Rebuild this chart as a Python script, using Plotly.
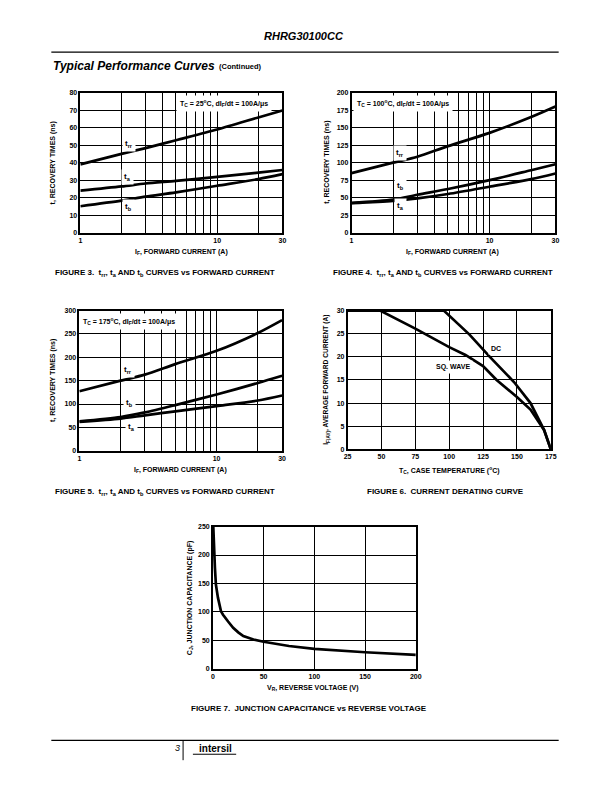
import numpy as np
import plotly.graph_objects as go

# page is 612x792; the browser body adds an 8px margin, so the figure
# itself is drawn 8px in from the top-left corner
OFF = 8
W, H = 612 - 2 * OFF, 792 - 2 * OFF
def X(px): return (px - OFF) / W
def Y(py): return 1 - (py - OFF) / H

FONT = "Liberation Sans, Arial, sans-serif"

# ---------------- data ----------------
IF = [1, 2, 3, 5, 10, 20, 30]
f3_trr = [39.0, 45.0, 48.3, 52.8, 58.9, 65.8, 69.8]
f3_ta = [24.0, 26.4, 28.1, 29.6, 31.9, 34.3, 35.8]
f3_tb = [15.1, 18.3, 20.6, 23.0, 26.8, 30.6, 33.4]

f4_trr = [85.0, 100.0, 108.5, 123.6, 142.5, 165.0, 180.0]
f4_tb = [42.5, 47.2, 54.2, 62.3, 75.0, 89.2, 97.6]
f4_ta = [42.0, 45.3, 49.0, 55.2, 65.6, 76.4, 84.4]

f5_trr = [127.4, 150.0, 162.8, 185.4, 213.8, 252.0, 279.5]
f5_tb = [63.0, 72.2, 82.0, 97.7, 120.3, 145.0, 160.5]
f5_ta = [61.6, 68.6, 75.7, 84.2, 95.5, 107.5, 118.2]

dc_T = [25, 96, 115, 130, 148, 160, 170, 175]
dc_I = [30, 30, 24.8, 20.0, 14.5, 10.0, 4.2, 0]
sq_T = [25, 49, 75, 100, 112, 125, 135, 150, 160, 170, 175]
sq_I = [30, 30, 26.1, 22.1, 20.4, 18.0, 15.0, 11.3, 8.6, 4.2, 0]

VR = [0.3, 1, 2, 3, 5, 8, 10, 15, 20, 25, 30, 40, 50, 75, 100, 150, 200]
CJ = [255, 215, 178, 148, 125, 101, 95, 83, 72, 64, 57.5, 51.5, 47.5, 40, 34.8, 29, 24.5]

log_major = [1, 10, 30]
log_minor = [2, 3, 4, 5, 6, 7, 8, 9, 20]

# ---------------- layout geometry (px on the page) ----------------
panels = [
    dict(x=(77.5, 283.0), y=(89.3, 230.7)),   # fig 3
    dict(x=(353.3, 560.7), y=(89.3, 230.7)),  # fig 4
    dict(x=(76.5, 282.7), y=(309.3, 450.7)),  # fig 5
    dict(x=(349.3, 556.0), y=(309.3, 449.3)), # fig 6
    dict(x=(212.3, 418.7), y=(527.3, 670.7)), # fig 7
]

fig = go.Figure()
CURVE = dict(color="black", width=2.7)

def add(xs, ys, i, shape="spline"):
    ax = "" if i == 1 else str(i)
    line = dict(shape=shape, **CURVE)
    if shape == "spline":
        line["smoothing"] = 0.8
    fig.add_trace(go.Scatter(x=xs, y=ys, mode="lines", line=line,
                             xaxis="x" + ax, yaxis="y" + ax, showlegend=False, hoverinfo="skip"))

for ys in (f3_trr, f3_ta, f3_tb):
    add(IF, ys, 1)
for ys in (f4_trr, f4_tb, f4_ta):
    add(IF, ys, 2)
for ys in (f5_trr, f5_tb, f5_ta):
    add(IF, ys, 3)
add(dc_T, dc_I, 4, "linear")
add(sq_T, sq_I, 4, "linear")
add(VR, CJ, 5, "linear")

tickfont = dict(family=FONT, size=7, color="black", weight="bold")
base = dict(showline=True, mirror=True, linecolor="black", linewidth=1.5,
            showgrid=True, gridcolor="black", gridwidth=1.1, ticks="",
            zeroline=False, tickfont=tickfont, fixedrange=True)

logx = dict(type="log", range=[0, np.log10(30)], tickmode="array",
            tickvals=log_major, ticktext=[str(v) for v in log_major],
            minor=dict(tickmode="array", tickvals=log_minor, showgrid=True,
                       gridcolor="black", gridwidth=1.1, ticks=""))
xspecs = [
    logx, logx, logx,
    dict(range=[25, 175], tickmode="linear", tick0=25, dtick=25),
    dict(range=[0, 200], tickmode="linear", tick0=0, dtick=50),
]
yspecs = [
    dict(range=[0, 80], tickmode="linear", tick0=0, dtick=10),
    dict(range=[0, 200], tickmode="linear", tick0=0, dtick=25),
    dict(range=[0, 300], tickmode="linear", tick0=0, dtick=50),
    dict(range=[0, 30], tickmode="linear", tick0=0, dtick=5),
    dict(range=[0, 250], tickmode="linear", tick0=0, dtick=50),
]

lay = {}
for i, (p, xs, ys) in enumerate(zip(panels, xspecs, yspecs), start=1):
    ax = "" if i == 1 else str(i)
    lay["xaxis" + ax] = dict(base, domain=[X(p["x"][0]), X(p["x"][1])], anchor="y" + ax, **xs)
    lay["yaxis" + ax] = dict(base, domain=[Y(p["y"][1]), Y(p["y"][0])], anchor="x" + ax, **ys)

fig.update_layout(width=W, height=H, margin=dict(l=0, r=0, t=0, b=0),
                  paper_bgcolor="white", plot_bgcolor="white", showlegend=False, **lay)

ann = []
def text(px, py, s, size=7, xanchor="center", yanchor="middle", angle=0, bg=None,
         italic=False, bold=True, pad=1, family=FONT):
    d = dict(x=X(px), y=Y(py), xref="paper", yref="paper", text=s, showarrow=False,
             xanchor=xanchor, yanchor=yanchor, textangle=angle,
             font=dict(family=family, size=size, color="black", weight="bold" if bold else "normal",
                       style="italic" if italic else "normal"))
    if bg:
        d.update(bgcolor=bg, borderpad=pad)
    ann.append(d)

# header
text(305, 32, "RHRG30100CC", size=11, italic=True)
text(48, 62, "Typical Performance Curves", size=12, italic=True, xanchor="left")
text(216, 63.5, "(Continued)", size=7.5, xanchor="left")

# condition boxes
text(223.3, 100, "T<sub>C</sub> = 25<sup>o</sup>C, dI<sub>F</sub>/dt = 100A/\u03bcs", size=7, bg="white", pad=3)
text(405.5, 100.5, "T<sub>C</sub> = 100<sup>o</sup>C, dI<sub>F</sub>/dt = 100A/\u03bcs", size=7, bg="white", pad=3)
text(126.7, 320, "T<sub>C</sub> = 175<sup>o</sup>C, dI<sub>F</sub>/dt = 100A/\u03bcs", size=7, bg="white", pad=3)

# curve labels
text(126.7, 141.5, "t<sub>rr</sub>", size=8, bg="white", pad=2)
text(125.5, 175, "t<sub>a</sub>", size=8, bg="white", pad=2)
text(126.7, 205, "t<sub>b</sub>", size=8, bg="white", pad=2)
text(402.5, 150, "t<sub>rr</sub>", size=8, bg="white", pad=2)
text(402.8, 183.5, "t<sub>b</sub>", size=8, bg="white", pad=2)
text(402.8, 204, "t<sub>a</sub>", size=8, bg="white", pad=2)
text(126, 369, "t<sub>rr</sub>", size=8, bg="white", pad=2)
text(128, 402.5, "t<sub>b</sub>", size=8, bg="white", pad=2)
text(129.7, 427, "t<sub>a</sub>", size=8, bg="white", pad=2)
text(500.7, 347.7, "DC", size=7, bg="white", pad=2)
text(456.7, 366.7, "SQ. WAVE", size=7, bg="white", pad=2)

# axis titles
text(180, 250.5, "I<sub>F</sub>, FORWARD CURRENT (A)", size=7)
text(456, 250.5, "I<sub>F</sub>, FORWARD CURRENT (A)", size=7)
text(179, 470.5, "I<sub>F</sub>, FORWARD CURRENT (A)", size=7)
text(453, 470.5, "T<sub>C</sub>, CASE TEMPERATURE (<sup>o</sup>C)", size=7)
text(314, 690.5, "V<sub>R</sub>, REVERSE VOLTAGE (V)", size=7)
text(49.5, 160, "t, RECOVERY TIMES (ns)", size=7, angle=-90)
text(328.5, 160, "t, RECOVERY TIMES (ns)", size=7, angle=-90)
text(49, 380, "t, RECOVERY TIMES (ns)", size=7, angle=-90)
text(327.5, 379, "I<sub>F(AV)</sub>, AVERAGE FORWARD CURRENT (A)", size=6.6, angle=-90)
text(188.5, 599, "C<sub>J</sub>, JUNCTION CAPACITANCE (pF)", size=7, angle=-90)

# captions
CAP = 8.0
text(50, 271, "FIGURE 3.  t<sub>rr</sub>, t<sub>a</sub> AND t<sub>b</sub> CURVES vs FORWARD CURRENT", size=CAP, xanchor="left")
text(332.5, 271, "FIGURE 4.  t<sub>rr</sub>, t<sub>a</sub> AND t<sub>b</sub> CURVES vs FORWARD CURRENT", size=CAP, xanchor="left")
text(50, 492, "FIGURE 5.  t<sub>rr</sub>, t<sub>a</sub> AND t<sub>b</sub> CURVES vs FORWARD CURRENT", size=CAP, xanchor="left")
text(367, 492, "FIGURE 6.  CURRENT DERATING CURVE", size=CAP, xanchor="left")
text(310, 711, "FIGURE 7.  JUNCTION CAPACITANCE vs REVERSE VOLTAGE", size=CAP)

# footer
text(176, 751, "3", size=9, italic=True, bold=False)
text(215, 751.5, "intersil", size=10, bold=True)

fig.update_layout(annotations=ann, shapes=[
    dict(type="line", xref="paper", yref="paper", x0=X(48), x1=X(564), y0=Y(48.5), y1=Y(48.5),
         line=dict(color="black", width=1.2)),
    dict(type="line", xref="paper", yref="paper", x0=X(48), x1=X(564), y0=Y(743), y1=Y(743),
         line=dict(color="black", width=1.2)),
    dict(type="line", xref="paper", yref="paper", x0=X(182), x1=X(182), y0=Y(743), y1=Y(763),
         line=dict(color="black", width=1)),
    dict(type="line", xref="paper", yref="paper", x0=X(192), x1=X(236), y0=Y(757), y1=Y(757),
         line=dict(color="black", width=1)),
])

fig.write_html("out.html")
